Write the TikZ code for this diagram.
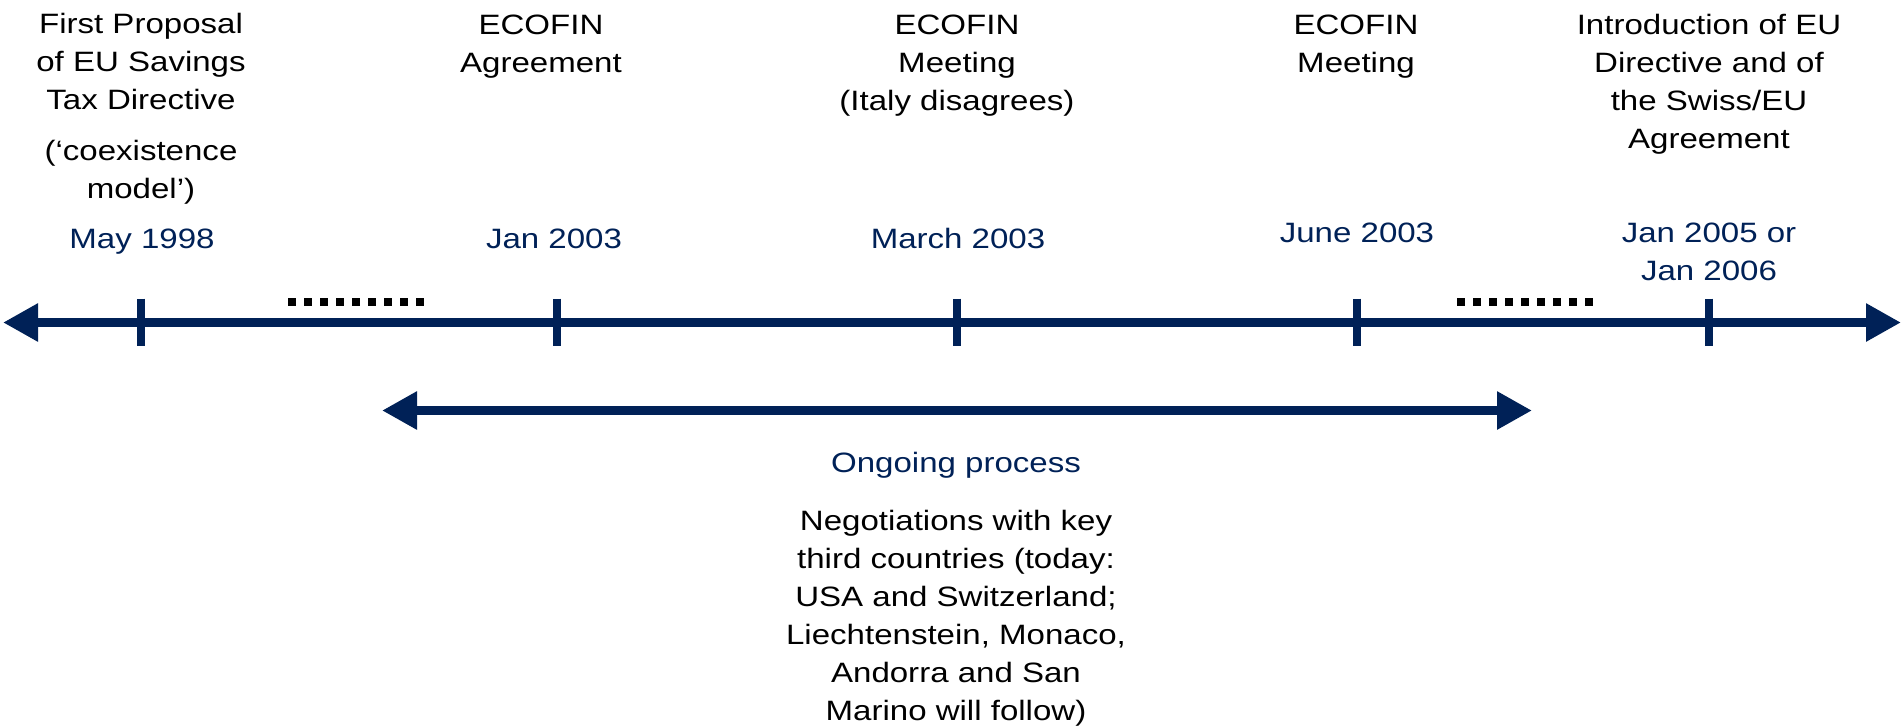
\documentclass[tikz,border=0pt]{standalone}
\usepackage{fontspec}
\setmainfont[FakeStretch=1.18]{Liberation Sans}
\usepackage{tikz}
\usetikzlibrary{arrows.meta, positioning}
\definecolor{navy}{RGB}{0,33,87}

\begin{document}
\begin{tikzpicture}[x=0.5pt, y=-0.5pt,
    >={Triangle[length=17.5pt,width=18pt]},
    lbl/.style={inner sep=0pt, anchor=base, align=center, font=\fontsize{14pt}{19pt}\selectfont},
    datelbl/.style={lbl, text=navy},
    axis/.style={draw=navy, line width=4.75pt},
    tick/.style={draw=navy, line width=4pt},
    dots/.style={draw=black, line width=4pt, dash pattern=on 4pt off 4pt}]
  \useasboundingbox (0,0) rectangle (1901,725);
  % time axis
  \coordinate (axL) at (3,322.5);
  \coordinate (axR) at (1901,322.5);
  \draw[axis, <->] (axL) -- (axR);
  \coordinate (t1) at (141,322.5);
  \coordinate (t2) at (557,322.5);
  \coordinate (t3) at (957,322.5);
  \coordinate (t4) at (1357,322.5);
  \coordinate (t5) at (1709,322.5);
  \draw[tick] ([yshift=12pt]t1) -- ([yshift=-11.5pt]t1);
  \draw[tick] ([yshift=12pt]t2) -- ([yshift=-11.5pt]t2);
  \draw[tick] ([yshift=12pt]t3) -- ([yshift=-11.5pt]t3);
  \draw[tick] ([yshift=12pt]t4) -- ([yshift=-11.5pt]t4);
  \draw[tick] ([yshift=12pt]t5) -- ([yshift=-11.5pt]t5);
  \draw[dots] (288,302) -- (424,302);
  \draw[dots] (1457,302) -- (1593,302);
  % events (base = last line)
  \node[lbl] (ev1) at (141,198) {First Proposal\\of EU Savings\\Tax Directive\\[6.5pt](`coexistence\\model')};
  \node[lbl] (ev2) at (541,72) {ECOFIN\\Agreement};
  \node[lbl] (ev3) at (957,110) {ECOFIN\\Meeting\\(Italy disagrees)};
  \node[lbl] (ev4) at (1356,72) {ECOFIN\\Meeting};
  \node[lbl] (ev5) at (1709,148) {Introduction of EU\\Directive and of\\the Swiss/EU\\Agreement};
  % dates
  \node[datelbl] (d1) at (142,248) {May 1998};
  \node[datelbl] (d2) at (554,248) {Jan 2003};
  \node[datelbl] (d3) at (958,248) {March 2003};
  \node[datelbl] (d4) at (1357,242) {June 2003};
  \node[datelbl] (d5) at (1709,280) {Jan 2005 or\\Jan 2006};
  % ongoing process
  \coordinate (prL) at (382,410.5);
  \coordinate (prR) at (1532,410.5);
  \draw[axis, <->] (prL) -- (prR);
  \node[datelbl] (pr) at (956,472) {Ongoing process};
  \node[lbl] (neg) at (956,720) {Negotiations with key\\third countries (today:\\USA and Switzerland;\\Liechtenstein, Monaco,\\Andorra and San\\Marino will follow)};
\end{tikzpicture}
\end{document}
